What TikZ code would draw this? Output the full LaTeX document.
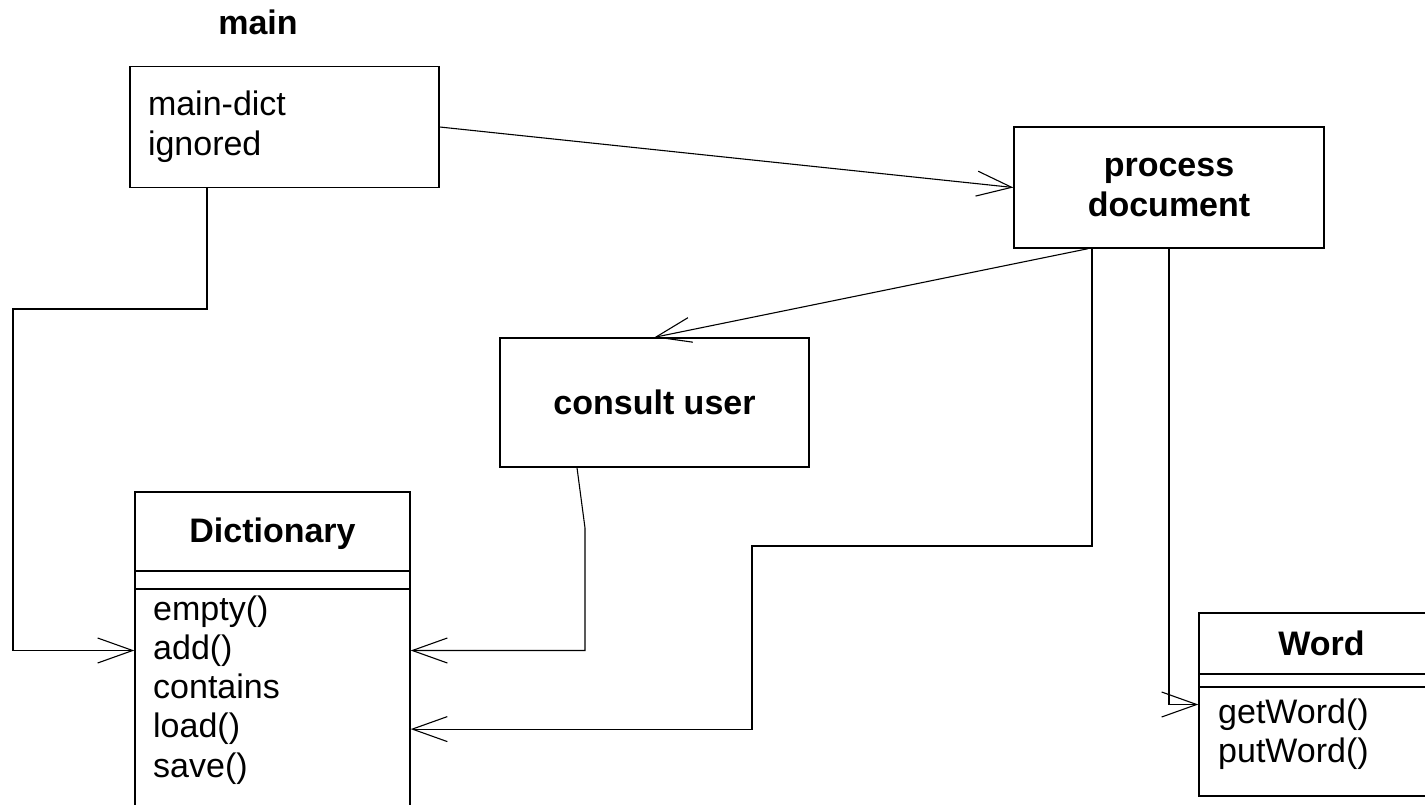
\documentclass[tikz,border=0pt]{standalone}
\usepackage{fontspec}
\setmainfont{Liberation Sans}
\usetikzlibrary{arrows.meta}

\tikzset{
  box/.style={draw, rectangle, line width=1.4pt, inner sep=0pt},
  label text/.style={font=\fontsize{34}{40}\selectfont},
  title text/.style={font=\fontsize{34}{40}\selectfont\bfseries},
  link/.style={line width=1.1pt, -{Straight Barb[length=35pt,width=25pt]}},
}

\begin{document}
\begin{tikzpicture}[x=1pt, y=-1pt]
  \useasboundingbox (0,0) rectangle (1425,805);

  % main routine and its data
  \node[title text, anchor=base] (mainlabel) at (258,35) {main};
  \node[box, label text, minimum width=309pt, minimum height=121pt, text width=273pt, inner xsep=18pt, align=left] (mainbox) at (284.5,127) {main-dict\\ignored};

  % the two processing steps
  \node[box, title text, minimum width=310pt, minimum height=121pt, align=center] (procbox) at (1169,187.5) {process\\document};
  \node[box, title text, minimum width=309pt, minimum height=129pt] (consultbox) at (654.5,402.5) {consult user};

  % class Dictionary
  \node[box, minimum width=275pt, minimum height=330pt] (dict) at (272.5,657) {};
  \node[title text, anchor=base] (dicttitle) at (272.5,542) {Dictionary};
  \draw[line width=1.4pt] (dict.west |- 0,571) -- (dict.east |- 0,571)
                          (dict.west |- 0,589) -- (dict.east |- 0,589);
  \foreach \m [count=\i] in {empty(),add(),contains,load(),save()}
    \node[label text, anchor=base west, inner sep=0pt] (dictm\i) at (153,{620+39.3*(\i-1)}) {\m};

  % class Word
  \node[box, minimum width=245pt, minimum height=183pt] (word) at (1321.5,704.5) {};
  \node[title text, anchor=base] (wordtitle) at (1321.5,655) {Word};
  \draw[line width=1.4pt] (word.west |- 0,674) -- (word.east |- 0,674)
                          (word.west |- 0,687) -- (word.east |- 0,687);
  \foreach \m [count=\i] in {getWord(),putWord()}
    \node[label text, anchor=base west, inner sep=0pt] (wordm\i) at (1218,{723+39*(\i-1)}) {\m};

  % calls and uses
  \draw[link] (mainbox.east) -- (procbox.west);
  \draw[link] ([xshift=-77.5pt]mainbox.south) |- (13,309) |- (dict.west |- dictm2.west);
  \draw[link] ([xshift=-81pt]procbox.south) -- (consultbox.north);
  \draw[link] ([xshift=-77.5pt]consultbox.south) -- (585,528) |- (dict.east |- dictm2.west);
  \draw[link] ([xshift=-77pt]procbox.south) |- (752,546) |- (dict.east |- dictm4.west);
  \draw[link] (procbox.south) |- (word.west);
\end{tikzpicture}
\end{document}
